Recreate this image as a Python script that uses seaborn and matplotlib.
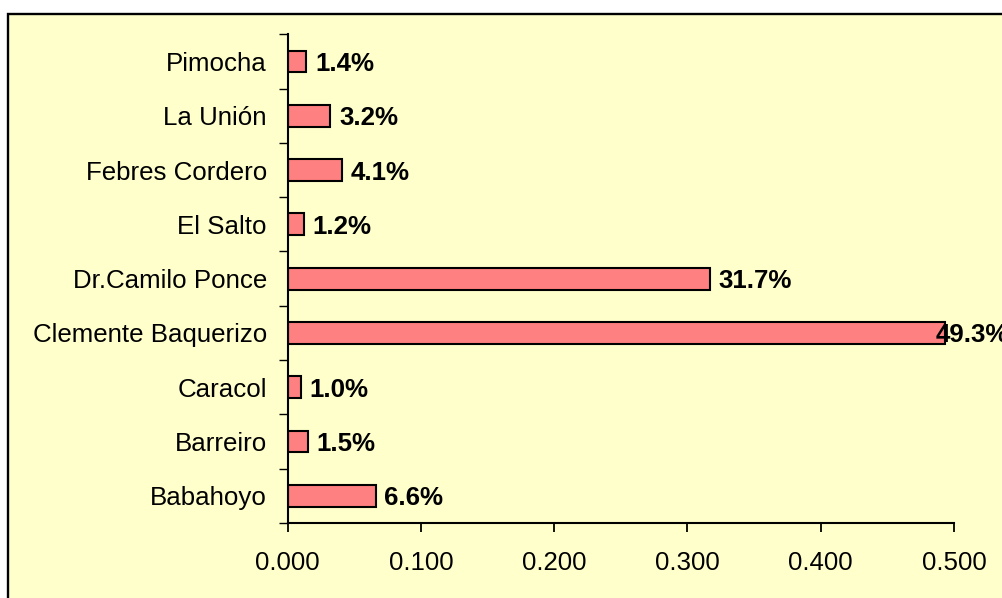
import matplotlib
matplotlib.use("Agg")
import matplotlib.pyplot as plt
import seaborn as sns
import pandas as pd
from matplotlib.patches import Rectangle

categories = ["Pimocha", "La Unión", "Febres Cordero", "El Salto", "Dr.Camilo Ponce",
              "Clemente Baquerizo", "Caracol", "Barreiro", "Babahoyo"]
values = [0.014, 0.032, 0.041, 0.012, 0.317, 0.493, 0.010, 0.015, 0.066]
labels = ["1.4%", "3.2%", "4.1%", "1.2%", "31.7%", "49.3%", "1.0%", "1.5%", "6.6%"]
xticks = [0.0, 0.1, 0.2, 0.3, 0.4, 0.5]
xtick_labels = ["0.000", "0.100", "0.200", "0.300", "0.400", "0.500"]

sns.set_style("white")
plt.rcParams['font.family'] = ['Liberation Sans', 'DejaVu Sans']

FS = 18.6
df = pd.DataFrame({"cat": categories, "val": values})

fig = plt.figure(figsize=(10.03, 5.98), dpi=100)
fig.patch.set_facecolor("white")
bg = Rectangle((8 / 1003, -0.2), 1.5, 1 - 13.5 / 598 + 0.2, transform=fig.transFigure,
               facecolor="#FFFFCC", edgecolor="black", linewidth=1.7, zorder=-10)
fig.patches.append(bg)

ax = fig.add_axes([287.7 / 1003, 1 - 523 / 598, (954 - 287.7) / 1003, (523 - 34.3) / 598])
ax.set_facecolor("none")
ax.set_zorder(5)

sns.barplot(data=df, x="val", y="cat", orient="h", color="#FF8080", saturation=1,
            edgecolor="black", linewidth=1.5, width=0.4, ax=ax)

ax.set_xlim(0, 0.5)
ax.set_ylim(len(categories) - 0.5, -0.5)
ax.set_xticks(xticks)
ax.set_xticklabels(xtick_labels)
ax.set_yticks([i - 0.5 for i in range(len(categories) + 1)], minor=True)
ax.tick_params(axis="y", which="major", length=0, pad=15, labelsize=FS, labelcolor="black")
ax.tick_params(axis="y", which="minor", length=6.3, width=1, direction="out", color="black", left=True)
ax.tick_params(axis="x", length=6.3, width=1.3, direction="out", color="black", bottom=True,
               pad=13.5, labelsize=FS, labelcolor="black")
for t in ax.get_yticklabels():
    t.set_verticalalignment("center_baseline")
ax.set_xlabel("")
ax.set_ylabel("")
for s in ["top", "right"]:
    ax.spines[s].set_visible(False)
for s in ["left", "bottom"]:
    ax.spines[s].set_color("black")
    ax.spines[s].set_linewidth(1.5)

for i, (v, lab) in enumerate(zip(values, labels)):
    off = -6.5 if v > 0.45 else 6.2
    ax.annotate(lab, xy=(v, i), xytext=(off, 0), textcoords="offset points",
                ha="left", va="center_baseline", fontsize=FS, fontweight="bold",
                color="black", annotation_clip=False)

fig.savefig("out.png", dpi=100)
